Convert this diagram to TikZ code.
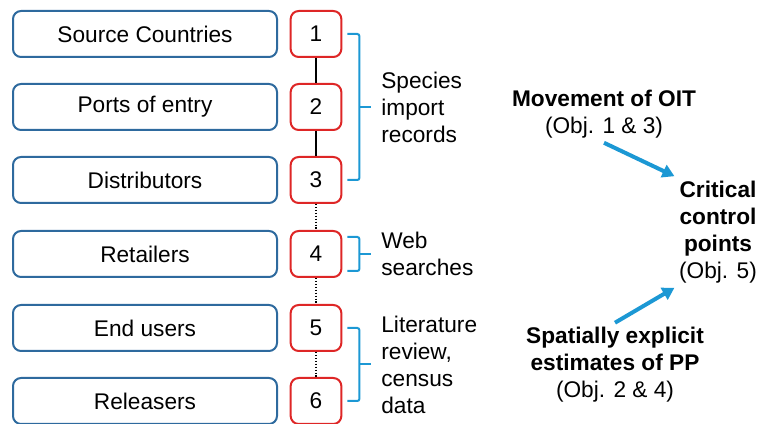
\documentclass[tikz,border=0pt]{standalone}
\usepackage{fontspec}
\setmainfont{Liberation Sans}
\usetikzlibrary{positioning,arrows.meta}

\definecolor{stageblue}{RGB}{46,106,158}
\definecolor{numred}{RGB}{222,38,38}
\definecolor{bracecyan}{RGB}{28,152,212}

\begin{document}
\begin{tikzpicture}[x=0.75pt,y=-0.75pt,
  stage/.style={draw=stageblue,line width=1.5pt,rounded corners=6pt,
    minimum width=198pt,minimum height=34.5pt,font=\fontsize{17}{20.25}\selectfont},
  num/.style={draw=numred,line width=1.5pt,rounded corners=6pt,
    minimum width=38pt,minimum height=34.5pt,font=\fontsize{17}{20.25}\selectfont},
  brace/.style={draw=bracecyan,line width=1.5pt,rounded corners=1.5pt},
  note/.style={align=left,font=\fontsize{17}{20.25}\selectfont},
  goal/.style={align=center,font=\fontsize{17}{20.25}\selectfont},
  flow/.style={draw=bracecyan,line width=3pt,-{Triangle[length=9pt,width=10pt]}}
]
\useasboundingbox (0,0) rectangle (758,424);

% chain of stages
\node[stage] (s1) at (145,34)  {Source Countries};
\node[stage] (s2) at (145,107) {Ports of entry};
\node[stage] (s3) at (145,180) {Distributors};
\node[stage] (s4) at (145,254) {Retailers};
\node[stage] (s5) at (145,328) {End users};
\node[stage] (s6) at (145,401) {Releasers};

\node[num] (n1) at (316,34)  {1};
\node[num] (n2) at (316,107) {2};
\node[num] (n3) at (316,180) {3};
\node[num] (n4) at (316,254) {4};
\node[num] (n5) at (316,328) {5};
\node[num] (n6) at (316,401) {6};

\draw[line width=1pt] (n1) -- (n2);
\draw[line width=1pt] (n2) -- (n3);
\draw[line width=1pt,dash pattern=on 1pt off 1.2pt] (n3) -- (n4);
\draw[line width=1pt,dash pattern=on 1pt off 1.2pt] (n4) -- (n5);
\draw[line width=1pt,dash pattern=on 1pt off 1.2pt] (n5) -- (n6);

% data sources
\draw[brace] ([xshift=3.75pt]n1.east) -- ++(12,0) |- ([xshift=3.75pt]n3.east) coordinate[pos=0.25] (b1);
\draw[brace] (b1) -- ++(12,0) coordinate (t1);
\node[note,right=4pt of t1] (d1) {Species\\import\\records};

\draw[brace] ([shift={(5,-17)}]n4.east) -- ++(12,0) |- ([shift={(5,17)}]n4.east) coordinate[pos=0.25] (b2);
\draw[brace] (b2) -- ++(12,0) coordinate (t2);
\node[note,right=4pt of t2] (d2) {Web\\searches};

\draw[brace] ([xshift=3.75pt]n5.east) -- ++(12,0) |- ([xshift=3.75pt]n6.east) coordinate[pos=0.25] (b3);
\draw[brace] (b3) -- ++(12,0) coordinate (t3);
\node[note,right=4pt of t3] (d3) {Literature\\review,\\census\\data};

% objectives
\node[goal] (mov) at (604,114) {\textbf{Movement of OIT}\\(Obj. 1 \& 3)};
\node[goal] (ccp) at (718,232) {\textbf{Critical}\\\textbf{control}\\\textbf{points}\\(Obj. 5)};
\node[goal] (spe) at (615,365) {\textbf{Spatially explicit}\\\textbf{estimates of PP}\\(Obj. 2 \& 4)};

\draw[flow] (mov.south) -- (ccp.north west);
\draw[flow] (spe.north) -- (ccp.south west);
\end{tikzpicture}
\end{document}
